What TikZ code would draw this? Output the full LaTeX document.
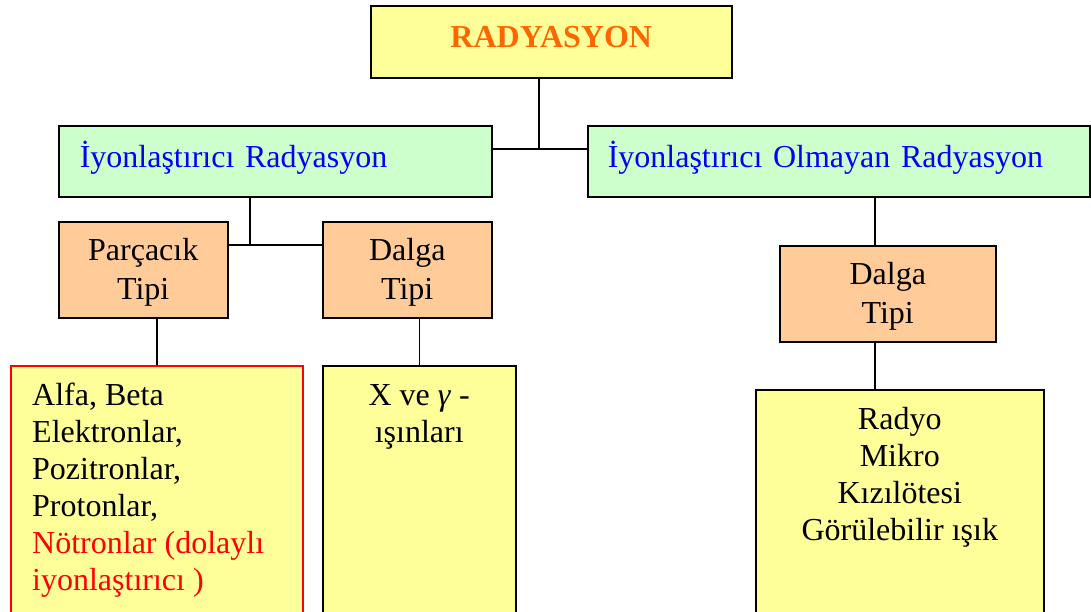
\documentclass[tikz,border=0pt]{standalone}
\usepackage{fontspec}
\setmainfont{Liberation Serif}
\definecolor{PaleYellow}{HTML}{FFFF99}
\definecolor{PaleGreen}{HTML}{CCFFCC}
\definecolor{Peach}{HTML}{FFCC99}
\definecolor{TitleOrange}{HTML}{FF6600}
\newcommand{\topgap}{\rule{0pt}{28pt}}

\begin{document}
\begin{tikzpicture}[x=1pt,y=-1pt,
    every node/.style={font=\fontsize{32}{37}\selectfont},
    box/.style={draw,line width=1.5pt,anchor=north west,inner sep=0pt},
    main/.style={box,fill=PaleGreen,text=blue,text height=41.5pt,text depth=29.5pt,
                 inner xsep=21pt,align=left},
    kind/.style={box,fill=Peach,minimum height=96pt,align=center,
                 font=\fontsize{32}{39}\selectfont},
    list/.style={box,fill=PaleYellow},
    txt/.style={inner sep=0pt},
    lnk/.style={line width=1.5pt}]
  \clip (0,0) rectangle (1091,611);
  \node[box,fill=PaleYellow,minimum width=361pt,text height=42pt,text depth=30pt,
        font=\fontsize{32}{37}\selectfont\bfseries,text=TitleOrange] (rad) at (370,5) {RADYASYON};
  \node[main,text width=391pt] (ion) at (58,125) {İyonlaştırıcı Radyasyon};
  \node[main,text width=462pt,inner xsep=20pt] (nonion) at (587,125) {İyonlaştırıcı Olmayan Radyasyon};
  \node[kind,minimum width=169pt] (part) at (58,221) {\topgap Parçacık\\Tipi};
  \node[kind,minimum width=169pt] (wave) at (322,221) {\topgap Dalga\\Tipi};
  \node[kind,minimum width=216pt] (wavetwo) at (779,245) {\topgap Dalga\\Tipi};
  \node[list,draw=red,minimum width=292pt,minimum height=260pt] (alpha) at (10,365) {};
  \node[list,minimum width=193pt,minimum height=260pt] (xray) at (322,365) {};
  \node[list,minimum width=288pt,minimum height=240pt] (spectrum) at (755,389) {};
  \node[txt,anchor=north west,align=left] (alphatxt) at ([xshift=22pt,yshift=-18pt]alpha.north west)
    {Alfa, Beta\\Elektronlar,\\Pozitronlar,\\Protonlar,\\
     \textcolor{red}{Nötronlar (dolaylı}\\\textcolor{red}{iyonlaştırıcı )}};
  \node[txt,anchor=north,align=center] (xraytxt) at ([yshift=-19pt]xray.north)
    {X ve \textit{γ} -\\ışınları};
  \node[txt,anchor=north,align=center] (spectrumtxt) at ([yshift=-18pt]spectrum.north)
    {Radyo\\Mikro\\Kızılötesi\\Görülebilir ışık};
  \coordinate (top) at (539,149);
  \coordinate (mid) at (250,245);
  \coordinate (rj) at (875,0);
  \draw[lnk] (rad.south -| top) -- (top);
  \draw[lnk] (ion.east |- top) -- (nonion.west |- top);
  \draw[lnk] (ion.south -| mid) -- (mid);
  \draw[lnk] (part.east |- mid) -- (wave.west |- mid);
  \draw[lnk] (alpha.north) -- (alpha.north |- part.south);
  \draw[lnk] (xray.north) -- (xray.north |- wave.south);
  \draw[lnk] (nonion.south -| rj) -- (wavetwo.north -| rj);
  \draw[lnk] (wavetwo.south -| rj) -- (spectrum.north -| rj);
\end{tikzpicture}
\end{document}
